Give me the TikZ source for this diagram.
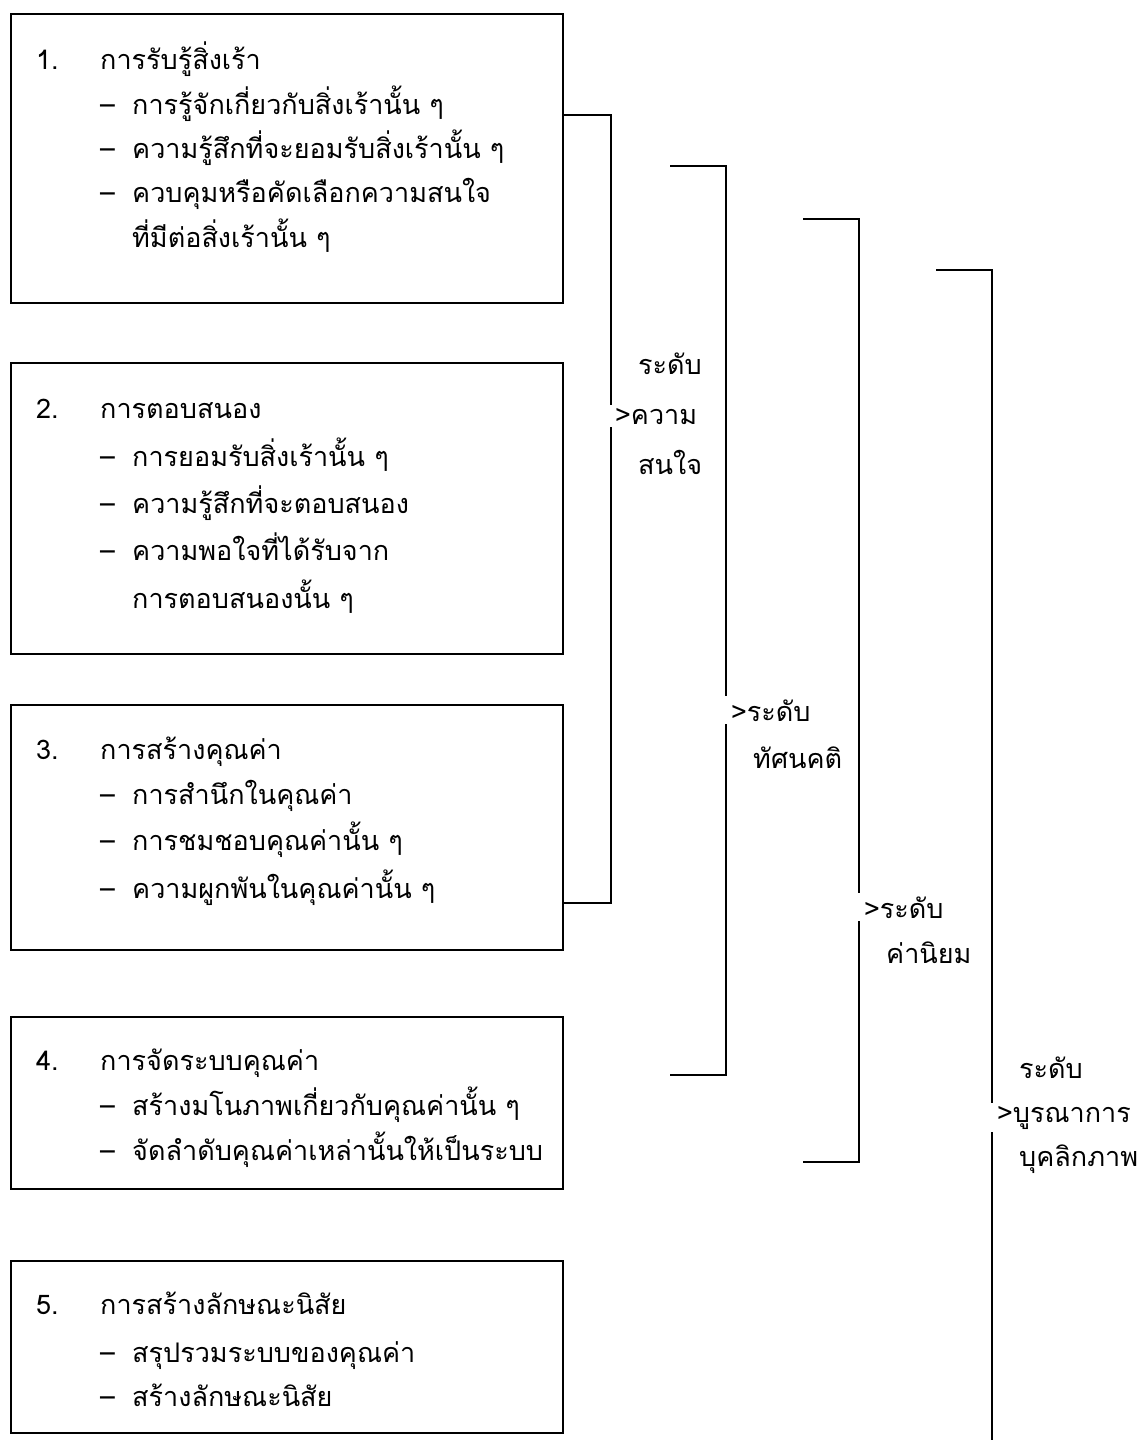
\documentclass[tikz,border=0pt]{standalone}
\usepackage{fontspec}
\newfontfamily\thaifont[Script=Thai]{Loma}
\begin{document}
\begin{tikzpicture}[x=1pt,y=-1pt,
  box/.style={draw, line width=1.6pt, minimum width=552pt, anchor=north west, inner sep=0pt},
  txt/.style={anchor=base west, inner sep=0pt, font=\thaifont\fontsize{27}{32}\selectfont},
  lbl/.style={txt, inner ysep=3pt},
  brk/.style={line width=1.6pt}]
\useasboundingbox (0,0) rectangle (1137,1440);
\fill[white] (0,0) rectangle (1137,1440);

% boxes
\node[box, minimum height=289pt] (box1) at (10,13) {};
\node[box, minimum height=291pt] (box2) at (10,362) {};
\node[box, minimum height=245pt] (box3) at (10,704) {};
\node[box, minimum height=172pt] (box4) at (10,1016) {};
\node[box, minimum height=172pt] (box5) at (10,1260) {};

% box 1
\node[txt] (n1) at (36,69) {1.};
\node[txt] (h1) at (100,69) {การรับรู้สิ่งเร้า};
\node[txt] (d1a) at (100,114) {–};
\node[txt] (i1a) at (132,114) {การรู้จักเกี่ยวกับสิ่งเร้านั้น ๆ};
\node[txt] (d1b) at (100,158) {–};
\node[txt] (i1b) at (132,158) {ความรู้สึกที่จะยอมรับสิ่งเร้านั้น ๆ};
\node[txt] (d1c) at (100,202) {–};
\node[txt] (i1c) at (132,202) {ควบคุมหรือคัดเลือกความสนใจ};
\node[txt] (i1d) at (132,247) {ที่มีต่อสิ่งเร้านั้น ๆ};

% box 2
\node[txt] (n2) at (36,418) {2.};
\node[txt] (h2) at (100,418) {การตอบสนอง};
\node[txt] (d2a) at (100,466) {–};
\node[txt] (i2a) at (132,466) {การยอมรับสิ่งเร้านั้น ๆ};
\node[txt] (d2b) at (100,513) {–};
\node[txt] (i2b) at (132,513) {ความรู้สึกที่จะตอบสนอง};
\node[txt] (d2c) at (100,560) {–};
\node[txt] (i2c) at (132,560) {ความพอใจที่ได้รับจาก};
\node[txt] (i2d) at (132,608) {การตอบสนองนั้น ๆ};

% box 3
\node[txt] (n3) at (36,759) {3.};
\node[txt] (h3) at (100,759) {การสร้างคุณค่า};
\node[txt] (d3a) at (100,804) {–};
\node[txt] (i3a) at (132,804) {การสำนึกในคุณค่า};
\node[txt] (d3b) at (100,850) {–};
\node[txt] (i3b) at (132,850) {การชมชอบคุณค่านั้น ๆ};
\node[txt] (d3c) at (100,898) {–};
\node[txt] (i3c) at (132,898) {ความผูกพันในคุณค่านั้น ๆ};

% box 4
\node[txt] (n4) at (36,1070) {4.};
\node[txt] (h4) at (100,1070) {การจัดระบบคุณค่า};
\node[txt] (d4a) at (100,1115) {–};
\node[txt] (i4a) at (132,1115) {สร้างมโนภาพเกี่ยวกับคุณค่านั้น ๆ};
\node[txt] (d4b) at (100,1160) {–};
\node[txt] (i4b) at (132,1160) {จัดลำดับคุณค่าเหล่านั้นให้เป็นระบบ};

% box 5
\node[txt] (n5) at (36,1314) {5.};
\node[txt] (h5) at (100,1314) {การสร้างลักษณะนิสัย};
\node[txt] (d5a) at (100,1362) {–};
\node[txt] (i5a) at (132,1362) {สรุปรวมระบบของคุณค่า};
\node[txt] (d5b) at (100,1406) {–};
\node[txt] (i5b) at (132,1406) {สร้างลักษณะนิสัย};

% bracket 1
\coordinate (b1t) at (611,115);
\coordinate (b1b) at (611,903);
\node[txt] (l1a) at (638,374) {ระดับ};
\node[lbl] (l1b) at (615,424) {>ความ};
\node[txt] (l1c) at (638,474) {สนใจ};
\draw[brk] (box1.east |- b1t) -- (b1t) -- (b1t |- l1b.north);
\draw[brk] (b1t |- l1b.south) -- (b1b) -- (box3.east |- b1b);

% bracket 2
\coordinate (b2s) at (670,166);
\coordinate (b2t) at (726,166);
\coordinate (b2b) at (726,1075);
\coordinate (b2e) at (670,1075);
\node[lbl] (l2a) at (731,721) {>ระดับ};
\node[txt] (l2b) at (753,768) {ทัศนคติ};
\draw[brk] (b2s) -- (b2t) -- (b2t |- l2a.north);
\draw[brk] (b2t |- l2a.south) -- (b2b) -- (b2e);

% bracket 3
\coordinate (b3s) at (803,219);
\coordinate (b3t) at (859,219);
\coordinate (b3b) at (859,1162);
\coordinate (b3e) at (803,1162);
\node[lbl] (l3a) at (864,918) {>ระดับ};
\node[txt] (l3b) at (886,963) {ค่านิยม};
\draw[brk] (b3s) -- (b3t) -- (b3t |- l3a.north);
\draw[brk] (b3t |- l3a.south) -- (b3b) -- (b3e);

% bracket 4
\coordinate (b4s) at (936,270);
\coordinate (b4t) at (992,270);
\coordinate (b4b) at (992,1440);
\node[txt] (l4a) at (1019,1078) {ระดับ};
\node[lbl] (l4b) at (997,1122) {>บูรณาการ};
\node[txt] (l4c) at (1019,1166) {บุคลิกภาพ};
\draw[brk] (b4s) -- (b4t) -- (b4t |- l4b.north);
\draw[brk] (b4t |- l4b.south) -- (b4b);
\end{tikzpicture}
\end{document}
